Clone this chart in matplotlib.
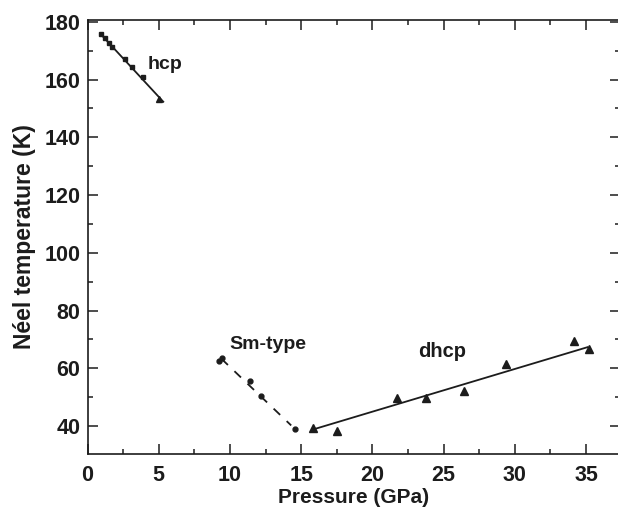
import numpy as np
import matplotlib
matplotlib.use("Agg")
import matplotlib.pyplot as plt
from matplotlib.ticker import MultipleLocator

plt.rcParams['font.family'] = ['Liberation Sans', 'DejaVu Sans']
plt.rcParams['font.weight'] = 'bold'

# hcp phase
hcp_p = [0.93, 1.23, 1.53, 1.74, 2.63, 3.10, 3.91]
hcp_t = [175.7, 174.3, 172.7, 171.3, 167.0, 164.4, 160.7]
hcp_end_p = [5.03]
hcp_end_t = [153.1]
hcp_fit_p = [0.93, 5.32]
hcp_fit_t = [175.7, 152.3]

# Sm-type phase
sm_p = [9.24, 9.45, 11.40, 12.15, 14.55]
sm_t = [62.6, 63.4, 55.7, 50.4, 38.9]
sm_fit_p = [9.40, 14.30]
sm_fit_t = [63.3, 40.2]

# dhcp phase
dhcp_p = [15.83, 17.52, 21.73, 23.74, 26.42, 29.35, 34.12, 35.24]
dhcp_t = [39.2, 38.3, 49.6, 49.6, 52.2, 61.4, 69.5, 66.6]
dhcp_fit_p = [15.9, 35.1]
dhcp_fit_t = [38.9, 67.3]

col = '#1c1c1c'

fig = plt.figure(figsize=(6.18, 5.11), dpi=100)
ax = fig.add_axes([0.1416, 0.1115, 0.862, 0.8493])

ax.plot(hcp_fit_p, hcp_fit_t, '-', color=col, lw=1.3)
ax.plot(hcp_p, hcp_t, 's', color=col, ms=3.2)
ax.plot(hcp_end_p, hcp_end_t, '^', color=col, ms=5)

ax.plot(sm_fit_p, sm_fit_t, '--', color=col, lw=1.3, dashes=(5, 5))
ax.plot(sm_p, sm_t, 'o', color=col, ms=3.5)

ax.plot(dhcp_fit_p, dhcp_fit_t, '-', color=col, lw=1.3)
ax.plot(dhcp_p, dhcp_t, '^', color=col, ms=6)

ax.text(4.24, 163.6, 'hcp', fontsize=14, fontweight='bold', color=col)
ax.text(9.99, 66.6, 'Sm-type', fontsize=14, fontweight='bold', color=col)
ax.text(23.2, 64.0, 'dhcp', fontsize=14.5, fontweight='bold', color=col)

ax.set_xlim(0, 37.4)
ax.set_ylim(30.3, 180.6)
ax.xaxis.set_major_locator(MultipleLocator(5))
ax.xaxis.set_minor_locator(MultipleLocator(2.5))
ax.yaxis.set_major_locator(MultipleLocator(20))
ax.yaxis.set_minor_locator(MultipleLocator(10))
ax.set_yticks(np.arange(40, 181, 20))
ax.tick_params(which='both', direction='in', top=True, right=True,
               width=1.1, color=col, labelsize=15.5, labelcolor=col)
ax.tick_params(axis='x', which='major', pad=8)
ax.tick_params(axis='y', which='major', pad=5)
ax.tick_params(which='major', length=7)
ax.tick_params(which='minor', length=3.5)
for s in ax.spines.values():
    s.set_linewidth(1.2)
    s.set_color(col)

ax.set_xlabel('Pressure (GPa)', fontsize=15, fontweight='bold', color=col, labelpad=1)
ax.set_ylabel('Néel temperature (K)', fontsize=16.5, fontweight='bold', color=col, labelpad=6)

fig.savefig('out.png', dpi=100)
